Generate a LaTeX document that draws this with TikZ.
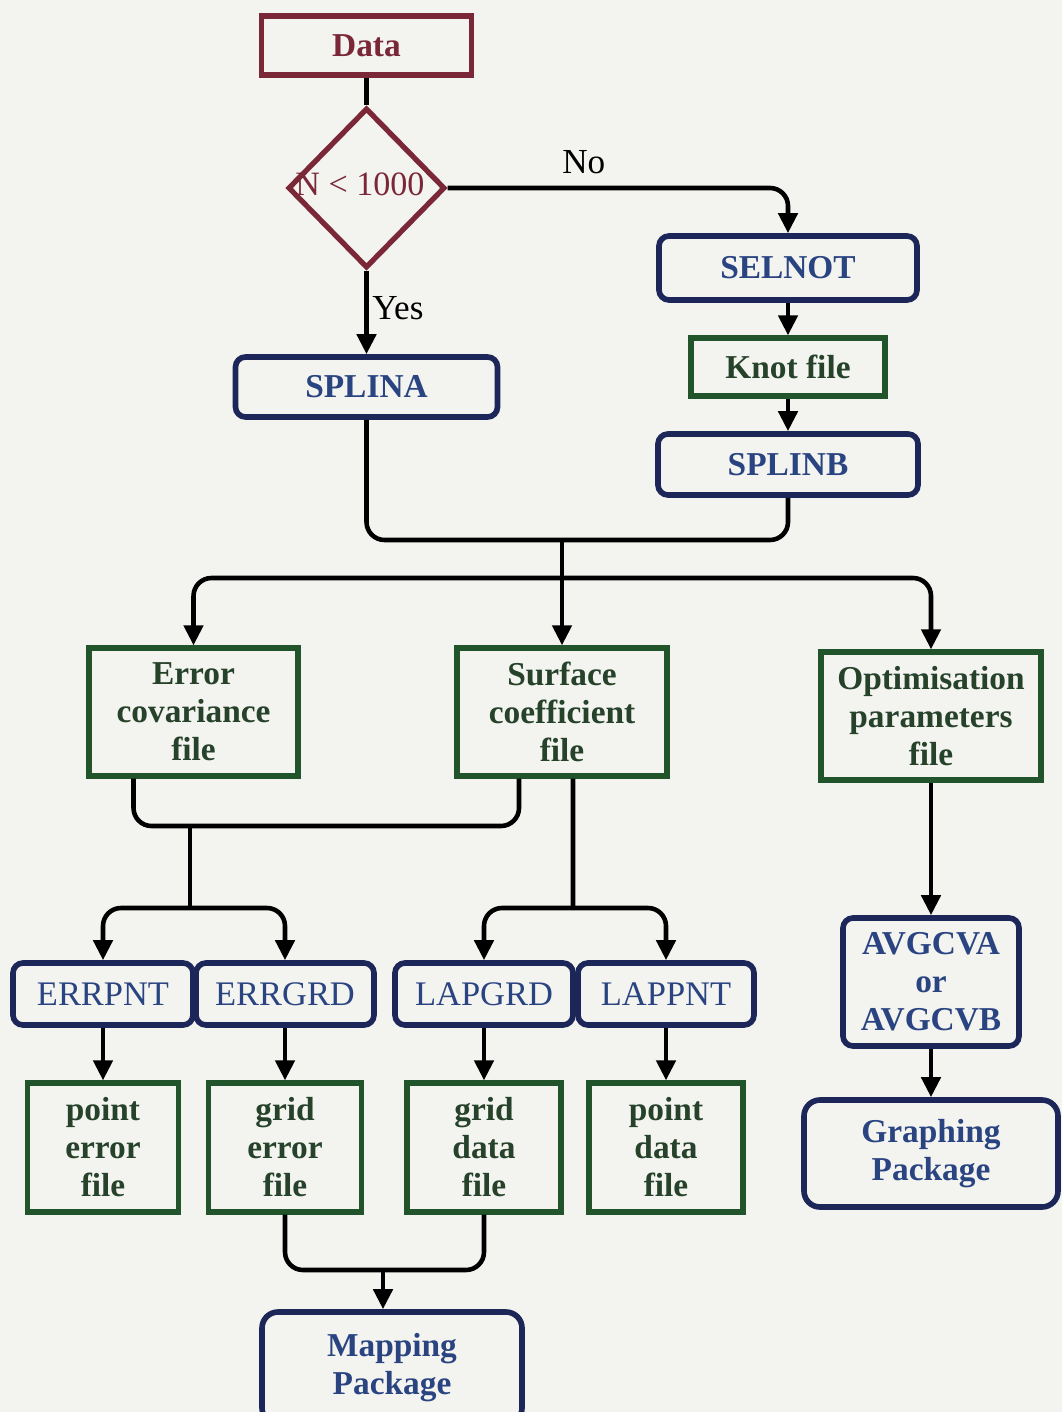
\documentclass[tikz,border=0pt]{standalone}
\usepackage{fontspec}
\setmainfont{Liberation Serif}
\usepackage{xcolor}
\usepackage{tikz}
\usetikzlibrary{shapes,arrows,positioning,calc}
\usetikzlibrary{arrows.meta}

\definecolor{pagebg}{RGB}{243,243,239}
\definecolor{datared}{RGB}{122,40,56}
\definecolor{prognavy}{RGB}{28,38,88}
\definecolor{progtext}{RGB}{42,68,130}
\definecolor{filegreen}{RGB}{34,84,44}
\definecolor{filetext}{RGB}{38,66,42}

\begin{document}
\begin{tikzpicture}[x=1cm,y=-1cm,
  font=\fontsize{9.5}{10.8}\selectfont\bfseries,
  start/.style={draw=datared, line width=1.5pt, text=datared, inner sep=0pt},
  decision/.style={diamond, draw=datared, line width=1.5pt, inner sep=0pt},
  prog/.style={draw=prognavy, line width=1.6pt, rounded corners=0.1cm, text=progtext, inner sep=0pt, align=center},
  lightprog/.style={prog, font=\fontsize{9.8}{11}\selectfont\mdseries},
  package/.style={prog, rounded corners=0.16cm},
  file/.style={draw=filegreen, line width=1.5pt, text=filetext, inner sep=0pt, align=center},
  line/.style={draw=black, line width=1.3pt, rounded corners=0.18cm},
  arrow/.style={line, -{Triangle[length=0.2cm,width=0.19cm]}},
  plain/.style={font=\fontsize{10}{12}\selectfont\mdseries, text=black}]
   \path[use as bounding box, fill=pagebg] (0,0) rectangle (10.62,14.12);
   %
   \node[start, minimum width=2.10cm, minimum height=0.59cm] (data) at (3.665,0.455) {Data};
   \node[decision, minimum width=1.57cm, minimum height=1.60cm] (test) at (3.665,1.88) {};
   \node[font=\fontsize{9.7}{11}\selectfont\mdseries, text=datared] (testlbl) at (3.60,1.84) {N < 1000};
   %
   \node[prog, minimum width=2.58cm, minimum height=0.64cm] (selnot) at (7.88,2.68) {SELNOT};
   \node[file, minimum width=1.94cm, minimum height=0.58cm] (knot) at (7.88,3.67) {Knot file};
   \node[prog, minimum width=2.60cm, minimum height=0.61cm] (splinb) at (7.88,4.645) {SPLINB};
   \node[prog, minimum width=2.62cm, minimum height=0.60cm] (splina) at (3.665,3.87) {SPLINA};
   %
   \node[file, minimum width=2.09cm, minimum height=1.28cm] (errcov) at (1.935,7.12) {Error\\covariance\\file};
   \node[file, minimum width=2.10cm, minimum height=1.28cm] (surf) at (5.62,7.12) {Surface\\coefficient\\file};
   \node[file, minimum width=2.20cm, minimum height=1.28cm] (optpar) at (9.31,7.16) {Optimisation\\parameters\\file};
   %
   \node[lightprog, minimum width=1.80cm, minimum height=0.62cm] (errpnt) at (1.03,9.94) {ERRPNT};
   \node[lightprog, minimum width=1.78cm, minimum height=0.62cm] (errgrd) at (2.85,9.94) {ERRGRD};
   \node[lightprog, minimum width=1.78cm, minimum height=0.62cm] (lapgrd) at (4.84,9.94) {LAPGRD};
   \node[lightprog, minimum width=1.76cm, minimum height=0.62cm] (lappnt) at (6.66,9.94) {LAPPNT};
   \node[prog, minimum width=1.76cm, minimum height=1.28cm] (avgcv) at (9.31,9.82) {AVGCVA\\or\\AVGCVB};
   %
   \node[file, minimum width=1.51cm, minimum height=1.29cm] (pterr) at (1.03,11.475) {point\\error\\file};
   \node[file, minimum width=1.53cm, minimum height=1.29cm] (griderr) at (2.85,11.475) {grid\\error\\file};
   \node[file, minimum width=1.54cm, minimum height=1.29cm] (griddat) at (4.84,11.475) {grid\\data\\file};
   \node[file, minimum width=1.54cm, minimum height=1.29cm] (ptdat) at (6.66,11.475) {point\\data\\file};
   \node[package, minimum width=2.54cm, minimum height=1.07cm] (graph) at (9.31,11.535) {Graphing\\Package};
   \node[package, minimum width=2.60cm, minimum height=1.12cm] (map) at (3.92,13.68) {Mapping\\Package};
   %
   \coordinate (merge) at (5.62,5.40);
   \coordinate (bar) at (5.62,5.78);
   \coordinate (errjoin) at (1.90,8.26);
   \coordinate (errsplit) at (1.90,9.08);
   \coordinate (lapsplit) at (5.73,9.08);
   \coordinate (mapjoin) at (3.83,12.70);
   %
   \draw[line] (data) -- (test);
   \draw[arrow] (test.east) -| (selnot.north) node[plain, pos=0.2, above] {No};
   \draw[arrow] (test.south) -- (splina.north) node[plain, pos=0.45, right, inner sep=1pt] {Yes};
   \draw[arrow] (selnot) -- (knot);
   \draw[arrow] (knot) -- (splinb);
   \draw[line] (splina.south) |- (merge) -| (splinb.south);
   %
   \draw[arrow] (merge) -- (surf.north);
   \draw[arrow] (bar) -| (errcov.north);
   \draw[arrow] (bar) -| (optpar.north);
   %
   \draw[line] ([xshift=-0.60cm]errcov.south) |- (errjoin) -| ([xshift=-0.43cm]surf.south);
   \draw[line] (errjoin) -- (errsplit);
   \draw[arrow] (errsplit) -| (errpnt.north);
   \draw[arrow] (errsplit) -| (errgrd.north);
   \draw[line] ([xshift=0.11cm]surf.south) -- (lapsplit);
   \draw[arrow] (lapsplit) -| (lapgrd.north);
   \draw[arrow] (lapsplit) -| (lappnt.north);
   \draw[arrow] (optpar) -- (avgcv);
   \draw[arrow] (avgcv) -- (graph);
   %
   \draw[arrow] (errpnt) -- (pterr);
   \draw[arrow] (errgrd) -- (griderr);
   \draw[arrow] (lapgrd) -- (griddat);
   \draw[arrow] (lappnt) -- (ptdat);
   \draw[line] (griderr.south) |- (mapjoin) -| (griddat.south);
   \draw[arrow] (mapjoin) -- (mapjoin |- map.north);
   %
\end{tikzpicture}
\end{document}
